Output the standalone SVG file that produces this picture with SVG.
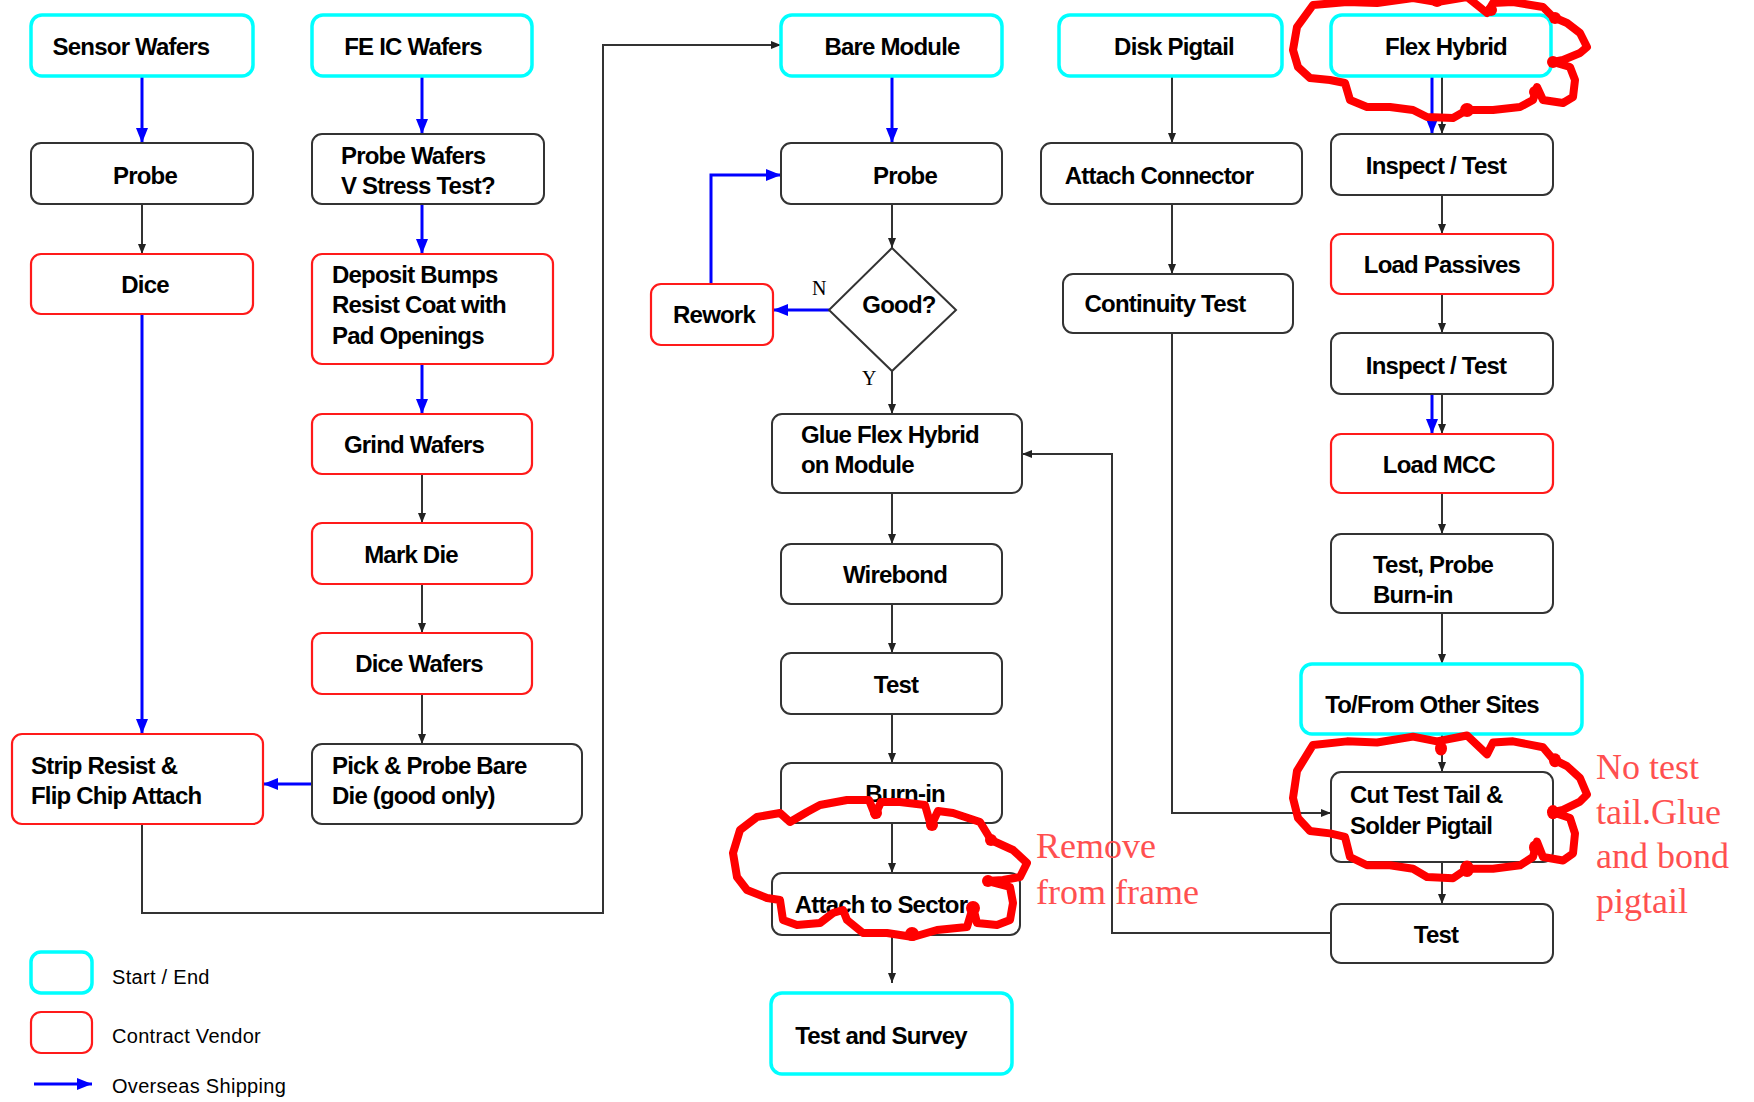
<svg xmlns="http://www.w3.org/2000/svg" width="1754" height="1102" viewBox="0 0 1754 1102">
<style>
.bk{fill:#fff;stroke:#333;stroke-width:2}
.rd{fill:#fff;stroke:#ff1a1a;stroke-width:2.2}
.cy{fill:#fff;stroke:#00ffff;stroke-width:3.5}
.t{font-family:"Liberation Sans",Arial,sans-serif;font-weight:bold;font-size:24px;letter-spacing:-0.8px;fill:#000}
.c{text-anchor:middle}
.lg{font-family:"Liberation Sans",Arial,sans-serif;font-size:20px;letter-spacing:0.3px;fill:#000}
.cb{fill:none;stroke:#333;stroke-width:2}
.cl{fill:none;stroke:#0000ff;stroke-width:3}
.note{font-family:"Liberation Serif","Times New Roman",serif;font-size:36px;fill:#ff5050}
.yn{font-family:"Liberation Serif","Times New Roman",serif;font-size:20px;fill:#000}
.cloud{fill:none;stroke:#ff0000;stroke-width:8;stroke-linejoin:round;stroke-linecap:round}
.blob{fill:#ff0000}
</style>
<defs>
<marker id="ab" markerUnits="userSpaceOnUse" markerWidth="15" markerHeight="13" refX="15" refY="6.5" orient="auto"><path d="M0,0.5 L15,6.5 L0,12.5 Z" fill="#0000ff"/></marker>
<marker id="ak" markerUnits="userSpaceOnUse" markerWidth="10" markerHeight="8" refX="10" refY="4" orient="auto"><path d="M0,0 L10,4 L0,8 Z" fill="#222"/></marker>
</defs>
<rect width="1754" height="1102" fill="#fff"/>

<g id="connectors">
<line class="cl" x1="142" y1="76" x2="142" y2="143" marker-end="url(#ab)"/>
<line class="cb" x1="142" y1="204" x2="142" y2="254" marker-end="url(#ak)"/>
<line class="cl" x1="142" y1="314" x2="142" y2="734" marker-end="url(#ab)"/>
<line class="cl" x1="422" y1="76" x2="422" y2="134" marker-end="url(#ab)"/>
<line class="cl" x1="422" y1="204" x2="422" y2="254" marker-end="url(#ab)"/>
<line class="cl" x1="422" y1="364" x2="422" y2="414" marker-end="url(#ab)"/>
<line class="cb" x1="422" y1="474" x2="422" y2="523" marker-end="url(#ak)"/>
<line class="cb" x1="422" y1="584" x2="422" y2="633" marker-end="url(#ak)"/>
<line class="cb" x1="422" y1="694" x2="422" y2="744" marker-end="url(#ak)"/>
<line class="cl" x1="312" y1="784" x2="263" y2="784" marker-end="url(#ab)"/>
<polyline class="cb" points="142,824 142,913 603,913 603,45 781,45" marker-end="url(#ak)"/>
<line class="cl" x1="892" y1="76" x2="892" y2="143" marker-end="url(#ab)"/>
<line class="cb" x1="892" y1="204" x2="892" y2="248" marker-end="url(#ak)"/>
<line class="cl" x1="829" y1="310" x2="773" y2="310" marker-end="url(#ab)"/>
<polyline class="cl" points="711,284 711,175 781,175" marker-end="url(#ab)"/>
<line class="cb" x1="892" y1="371" x2="892" y2="414" marker-end="url(#ak)"/>
<line class="cb" x1="892" y1="493" x2="892" y2="544" marker-end="url(#ak)"/>
<line class="cb" x1="892" y1="604" x2="892" y2="653" marker-end="url(#ak)"/>
<line class="cb" x1="892" y1="714" x2="892" y2="763" marker-end="url(#ak)"/>
<line class="cb" x1="892" y1="823" x2="892" y2="873" marker-end="url(#ak)"/>
<line class="cb" x1="892" y1="935" x2="892" y2="983" marker-end="url(#ak)"/>
<line class="cb" x1="1172" y1="76" x2="1172" y2="143" marker-end="url(#ak)"/>
<line class="cb" x1="1172" y1="204" x2="1172" y2="274" marker-end="url(#ak)"/>
<polyline class="cb" points="1172,333 1172,813 1331,813" marker-end="url(#ak)"/>
<line class="cl" x1="1432" y1="76" x2="1432" y2="134" marker-end="url(#ab)"/>
<line class="cb" x1="1442" y1="76" x2="1442" y2="134" marker-end="url(#ak)"/>
<line class="cb" x1="1442" y1="195" x2="1442" y2="234" marker-end="url(#ak)"/>
<line class="cb" x1="1442" y1="294" x2="1442" y2="333" marker-end="url(#ak)"/>
<line class="cl" x1="1432" y1="394" x2="1432" y2="434" marker-end="url(#ab)"/>
<line class="cb" x1="1442" y1="394" x2="1442" y2="434" marker-end="url(#ak)"/>
<line class="cb" x1="1442" y1="493" x2="1442" y2="534" marker-end="url(#ak)"/>
<line class="cb" x1="1442" y1="613" x2="1442" y2="664" marker-end="url(#ak)"/>
<line class="cb" x1="1442" y1="734" x2="1442" y2="772" marker-end="url(#ak)"/>
<line class="cb" x1="1442" y1="862" x2="1442" y2="904" marker-end="url(#ak)"/>
<polyline class="cb" points="1331,933 1112,933 1112,454 1022,454" marker-end="url(#ak)"/>
</g>

<g id="n-sensor-wafers"><rect class="cy" x="31" y="15" width="222" height="61" rx="11"/><text class="t c" x="131" y="55">Sensor Wafers</text></g>
<g id="n-probe1"><rect class="bk" x="31" y="143" width="222" height="61" rx="10"/><text class="t c" x="145" y="184">Probe</text></g>
<g id="n-dice"><rect class="rd" x="31" y="254" width="222" height="60" rx="10"/><text class="t c" x="145" y="293">Dice</text></g>
<g id="n-strip"><rect class="rd" x="12" y="734" width="251" height="90" rx="10"/><text class="t" x="31" y="774">Strip Resist &amp;</text><text class="t" x="31" y="804">Flip Chip Attach</text></g>

<g id="n-feic"><rect class="cy" x="312" y="15" width="220" height="61" rx="11"/><text class="t c" x="413" y="55">FE IC Wafers</text></g>
<g id="n-probe-wafers"><rect class="bk" x="312" y="134" width="232" height="70" rx="10"/><text class="t" x="341" y="164">Probe Wafers</text><text class="t" x="341" y="194">V Stress Test?</text></g>
<g id="n-deposit"><rect class="rd" x="312" y="254" width="241" height="110" rx="10"/><text class="t" x="332" y="283">Deposit Bumps</text><text class="t" x="332" y="313">Resist Coat with</text><text class="t" x="332" y="344">Pad  Openings</text></g>
<g id="n-grind"><rect class="rd" x="312" y="414" width="220" height="60" rx="10"/><text class="t c" x="414" y="453">Grind Wafers</text></g>
<g id="n-mark"><rect class="rd" x="312" y="523" width="220" height="61" rx="10"/><text class="t c" x="411" y="563">Mark Die</text></g>
<g id="n-dice-wafers"><rect class="rd" x="312" y="633" width="220" height="61" rx="10"/><text class="t c" x="419" y="672">Dice Wafers</text></g>
<g id="n-pick"><rect class="bk" x="312" y="744" width="270" height="80" rx="10"/><text class="t" x="332" y="774">Pick &amp; Probe Bare</text><text class="t" x="332" y="804">Die (good only)</text></g>

<g id="n-bare-module"><rect class="cy" x="781" y="15" width="221" height="61" rx="11"/><text class="t c" x="892" y="55">Bare Module</text></g>
<g id="n-probe3"><rect class="bk" x="781" y="143" width="221" height="61" rx="10"/><text class="t c" x="905" y="184">Probe</text></g>
<g id="n-good"><polygon points="892,248 956,310 892,371 829,310" fill="#fff" stroke="#333" stroke-width="2"/><text class="t c" x="899" y="313">Good?</text></g>
<g id="n-rework"><rect class="rd" x="651" y="284" width="122" height="61" rx="10"/><text class="t c" x="714" y="323">Rework</text></g>
<text class="yn" x="812" y="295">N</text>
<text class="yn" x="862" y="385">Y</text>
<g id="n-glue"><rect class="bk" x="772" y="414" width="250" height="79" rx="10"/><text class="t" x="801" y="443">Glue Flex Hybrid</text><text class="t" x="801" y="473">on Module</text></g>
<g id="n-wirebond"><rect class="bk" x="781" y="544" width="221" height="60" rx="10"/><text class="t c" x="895" y="583">Wirebond</text></g>
<g id="n-test3"><rect class="bk" x="781" y="653" width="221" height="61" rx="10"/><text class="t c" x="896" y="693">Test</text></g>
<g id="n-burnin"><rect class="bk" x="781" y="763" width="221" height="60" rx="10"/><text class="t c" x="905" y="802">Burn-in</text></g>
<g id="n-attach-sector"><rect class="bk" x="772" y="873" width="248" height="62" rx="10"/><text class="t c" x="881" y="913">Attach to Sector</text></g>
<g id="n-test-survey"><rect class="cy" x="771" y="993" width="241" height="81" rx="11"/><text class="t c" x="881" y="1044">Test and Survey</text></g>

<g id="n-disk-pigtail"><rect class="cy" x="1059" y="15" width="223" height="61" rx="11"/><text class="t c" x="1174" y="55">Disk Pigtail</text></g>
<g id="n-attach-connector"><rect class="bk" x="1041" y="143" width="261" height="61" rx="10"/><text class="t c" x="1159" y="184">Attach Connector</text></g>
<g id="n-continuity"><rect class="bk" x="1063" y="274" width="230" height="59" rx="10"/><text class="t c" x="1165" y="312">Continuity Test</text></g>

<g id="n-flex-hybrid"><rect class="cy" x="1331" y="15" width="220" height="61" rx="11"/><text class="t c" x="1446" y="55">Flex Hybrid</text></g>
<g id="n-inspect1"><rect class="bk" x="1331" y="134" width="222" height="61" rx="10"/><text class="t c" x="1436" y="174">Inspect / Test</text></g>
<g id="n-load-passives"><rect class="rd" x="1331" y="234" width="222" height="60" rx="10"/><text class="t c" x="1442" y="273">Load Passives</text></g>
<g id="n-inspect2"><rect class="bk" x="1331" y="333" width="222" height="61" rx="10"/><text class="t c" x="1436" y="374">Inspect / Test</text></g>
<g id="n-load-mcc"><rect class="rd" x="1331" y="434" width="222" height="59" rx="10"/><text class="t c" x="1439" y="473">Load MCC</text></g>
<g id="n-test-probe"><rect class="bk" x="1331" y="534" width="222" height="79" rx="10"/><text class="t" x="1373" y="573">Test, Probe</text><text class="t" x="1373" y="603">Burn-in</text></g>
<g id="n-tofrom"><rect class="cy" x="1301" y="664" width="281" height="70" rx="11"/><text class="t c" x="1432" y="713">To/From Other Sites</text></g>
<g id="n-cut-tail"><rect class="bk" x="1331" y="772" width="222" height="90" rx="10"/><text class="t" x="1350" y="803">Cut Test Tail &amp;</text><text class="t" x="1350" y="834">Solder Pigtail</text></g>
<g id="n-test5"><rect class="bk" x="1331" y="904" width="222" height="59" rx="10"/><text class="t c" x="1436" y="943">Test</text></g>

<g id="legend">
<rect class="cy" x="31" y="952" width="61" height="41" rx="10"/>
<text class="lg" x="112" y="984">Start / End</text>
<rect class="rd" x="31" y="1012" width="61" height="41" rx="10"/>
<text class="lg" x="112" y="1043">Contract Vendor</text>
<line class="cl" x1="34" y1="1084" x2="92" y2="1084" marker-end="url(#ab)"/>
<text class="lg" x="112" y="1093">Overseas Shipping</text>
</g>

<g id="annotations">
<path class="cloud" d="M1313,5 L1297,27 L1293,50 L1298,67 L1310,78 L1330,80 L1345,83 L1350,100 L1367,107 L1390,107 L1413,110 L1427,117 L1453,118 L1467,110 L1493,110 L1520,107 L1533,100 L1537,87 L1543,100 L1563,103 L1573,97 L1575,80 L1570,67 L1553,62 L1563,60 L1580,53 L1587,47 L1580,33 L1567,23 L1553,17 L1543,7 L1513,2 L1493,3 L1487,13 L1467,-3 L1437,2 L1413,-2 L1377,3 L1347,2 Z"/>
<circle class="blob" cx="1467" cy="110" r="7"/><circle class="blob" cx="1535" cy="92" r="6"/><circle class="blob" cx="1553" cy="62" r="6"/><circle class="blob" cx="1555" cy="18" r="6"/><circle class="blob" cx="1491" cy="10" r="6"/><circle class="blob" cx="1437" cy="1" r="6"/>
<g transform="translate(0,739) scale(1,1.18)">
<path class="cloud" vector-effect="non-scaling-stroke" d="M1313,5 L1297,27 L1293,50 L1298,67 L1310,78 L1330,80 L1345,83 L1350,100 L1367,107 L1390,107 L1413,110 L1427,117 L1453,118 L1467,110 L1493,110 L1520,107 L1533,100 L1537,87 L1543,100 L1563,103 L1573,97 L1575,80 L1570,67 L1553,62 L1563,60 L1580,53 L1587,47 L1580,33 L1567,23 L1553,17 L1543,7 L1513,2 L1493,3 L1487,13 L1467,-3 L1437,2 L1413,-2 L1377,3 L1347,2 Z"/>
<circle class="blob" cx="1467" cy="110" r="7"/><circle class="blob" cx="1535" cy="92" r="6"/><circle class="blob" cx="1553" cy="62" r="6"/><circle class="blob" cx="1555" cy="18" r="6"/><circle class="blob" cx="1441" cy="8" r="6"/>
</g>
<path class="cloud" d="M733,853 L740,830 L757,817 L780,813 L790,822 L807,812 L820,805 L847,800 L869,800 L875,815 L881,802 L900,802 L925,805 L931,826 L938,811 L953,813 L980,822 L991,840 L1013,850 L1027,863 L1020,877 L1003,880 L987,881 L1010,887 L1013,903 L1010,920 L997,925 L977,923 L973,907 L967,927 L937,930 L913,937 L887,933 L863,933 L847,920 L843,910 L833,913 L820,923 L797,925 L783,920 L780,900 L767,898 L747,890 L737,877 Z"/>
<circle class="blob" cx="876" cy="813" r="6"/><circle class="blob" cx="932" cy="825" r="6"/><circle class="blob" cx="991" cy="840" r="6"/><circle class="blob" cx="988" cy="881" r="6"/><circle class="blob" cx="973" cy="908" r="7"/><circle class="blob" cx="912" cy="934" r="7"/>
<text class="note" x="1036" y="858">Remove</text>
<text class="note" x="1036" y="904">from frame</text>
<text class="note" x="1596" y="779">No test</text>
<text class="note" x="1596" y="824">tail.Glue</text>
<text class="note" x="1596" y="868">and bond</text>
<text class="note" x="1596" y="913">pigtail</text>
</g>
</svg>
